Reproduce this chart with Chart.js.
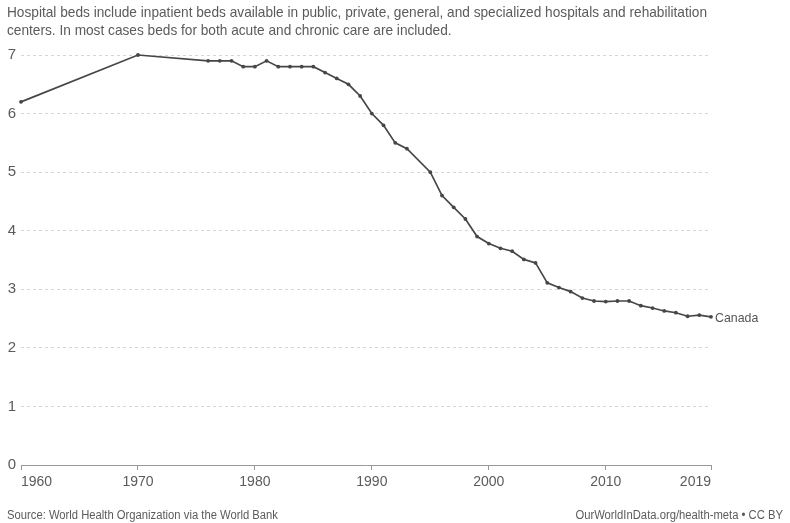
<!DOCTYPE html>
<html>
<head>
<meta charset="utf-8">
<script src="https://cdn.jsdelivr.net/npm/chart.js@4/dist/chart.umd.min.js"></script>
<style>
  html, body { margin: 0; padding: 0; background: #fff; }
  #wrap { width: 790px; height: 523px; position: relative; }
</style>
</head>
<body>
<div id="wrap"><canvas id="c" width="790" height="523"></canvas></div>
<script>
const years = [1960, 1970, 1976, 1977, 1978, 1979, 1980, 1981, 1982, 1983, 1984, 1985,
  1986, 1987, 1988, 1989, 1990, 1991, 1992, 1993, 1995, 1996, 1997, 1998, 1999,
  2000, 2001, 2002, 2003, 2004, 2005, 2006, 2007, 2008, 2009, 2010, 2011, 2012,
  2013, 2014, 2015, 2016, 2017, 2018, 2019];
const bedsPer1000 = [6.2, 7.0, 6.9, 6.9, 6.9, 6.8, 6.8, 6.9, 6.8, 6.8, 6.8, 6.8,
  6.7, 6.6, 6.5, 6.3, 6.0, 5.8, 5.5, 5.4, 5.0, 4.6, 4.4, 4.2, 3.9,
  3.78, 3.7, 3.65, 3.51, 3.45, 3.11, 3.03, 2.96, 2.85, 2.8, 2.79, 2.8, 2.8,
  2.72, 2.68, 2.63, 2.6, 2.54, 2.56, 2.53];
const xTickYears = [1960, 1970, 1980, 1990, 2000, 2010, 2019];
const yTickValues = [0, 1, 2, 3, 4, 5, 6, 7];
const seriesName = "Canada";
const subtitleLines = [
  "Hospital beds include inpatient beds available in public, private, general, and specialized hospitals and rehabilitation",
  "centers. In most cases beds for both acute and chronic care are included."
];
const sourceText = "Source: World Health Organization via the World Bank";
const creditText = "OurWorldInData.org/health-meta • CC BY";

const FONT = '"Liberation Sans", Arial, Helvetica, sans-serif';
const TEXT = '#5b5b5b';

const points = years.map((y, i) => ({ x: y, y: bedsPer1000[i] }));

const decor = {
  id: 'decor',
  afterDraw(chart) {
    const ctx = chart.ctx;
    ctx.save();
    ctx.fillStyle = TEXT;
    ctx.textBaseline = 'middle';
    ctx.textAlign = 'left';
    ctx.font = '14.5px ' + FONT;
    const w1 = ctx.measureText(subtitleLines[0]).width;
    const sx = Math.min(1, 700 / w1);
    const ys = [13, 31];
    subtitleLines.forEach((t, i) => {
      ctx.save();
      ctx.translate(7, ys[i]);
      ctx.scale(sx, 1);
      ctx.fillText(t, 0, 0);
      ctx.restore();
    });
    ctx.font = '12.5px ' + FONT;
    const fx = 0.9;
    ctx.save();
    ctx.translate(7, 516);
    ctx.scale(fx, 1);
    ctx.fillText(sourceText, 0, 0);
    ctx.restore();
    const cw = ctx.measureText(creditText).width * fx;
    ctx.save();
    ctx.translate(783 - cw, 516);
    ctx.scale(fx, 1);
    ctx.fillText(creditText, 0, 0);
    ctx.restore();
    const meta = chart.getDatasetMeta(0);
    const last = meta.data[meta.data.length - 1];
    ctx.font = '13px ' + FONT;
    ctx.fillStyle = '#555';
    ctx.save();
    ctx.translate(last.x + 4, last.y + 2);
    ctx.scale(0.95, 1);
    ctx.fillText(seriesName, 0, 0);
    ctx.restore();
    ctx.restore();
  }
};

new Chart(document.getElementById('c'), {
  type: 'line',
  data: {
    datasets: [{
      label: seriesName,
      data: points,
      borderColor: '#464646',
      backgroundColor: '#464646',
      borderWidth: 1.7,
      pointRadius: 1.9,
      pointHoverRadius: 1.9,
      pointBorderWidth: 0,
      tension: 0,
      clip: false
    }]
  },
  options: {
    responsive: false,
    animation: false,
    events: [],
    layout: { padding: { left: 0, right: 79, top: 55, bottom: 33 } },
    plugins: {
      legend: { display: false },
      tooltip: { enabled: false },
      title: { display: false }
    },
    scales: {
      x: {
        type: 'linear',
        min: 1960,
        max: 2019,
        afterBuildTicks(scale) {
          scale.ticks = xTickYears.map(v => ({ value: v }));
        },
        afterFit(scale) { scale.height = 25; },
        ticks: {
          color: TEXT,
          font: { family: FONT, size: 14 },
          padding: 4,
          align: 'inner',
          maxRotation: 0,
          autoSkip: false,
          callback: v => String(v)
        },
        grid: { drawOnChartArea: false, drawTicks: true, tickLength: 5, color: '#999', lineWidth: 1 },
        border: { display: true, color: '#999', width: 1 }
      },
      y: {
        type: 'linear',
        min: 0,
        max: 7,
        afterBuildTicks(scale) {
          scale.ticks = yTickValues.map(v => ({ value: v }));
        },
        afterFit(scale) { scale.width = 21; },
        ticks: {
          color: TEXT,
          font: { family: FONT, size: 15 },
          padding: 5,
          autoSkip: false
        },
        grid: { drawTicks: false, color: '#d6d6d6', lineWidth: 1 },
        border: { display: false, dash: [3, 3] }
      }
    }
  },
  plugins: [decor]
});
</script>
</body>
</html>
